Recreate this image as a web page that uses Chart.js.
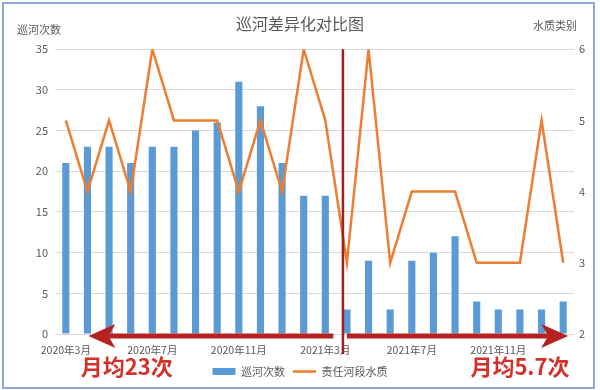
<!DOCTYPE html>
<html>
<head>
<meta charset="utf-8">
<title>巡河差异化对比图</title>
<script src="https://cdn.jsdelivr.net/npm/chart.js@4.4.0/dist/chart.umd.min.js"></script>
<style>
  html, body { margin: 0; padding: 0; background: #fff; }
  canvas { display: block; }
</style>
</head>
<body>
<canvas id="chart" width="600" height="390"></canvas>
<script>
const months = ['2020年3月', '2020年4月', '2020年5月', '2020年6月', '2020年7月', '2020年8月',
  '2020年9月', '2020年10月', '2020年11月', '2020年12月', '2021年1月', '2021年2月',
  '2021年3月', '2021年4月', '2021年5月', '2021年6月', '2021年7月', '2021年8月',
  '2021年9月', '2021年10月', '2021年11月', '2021年12月', '2022年1月', '2022年2月'];
const patrolCounts = [21, 23, 23, 21, 23, 23, 25, 26, 31, 28, 21, 17, 17, 3, 9, 3, 9, 10, 12, 4, 3, 3, 3, 4];
const waterGrade = [5, 4, 5, 4, 6, 5, 5, 5, 4, 5, 4, 6, 5, 3, 6, 3, 4, 4, 4, 3, 3, 3, 5, 3];
const seriesNames = ['巡河次数', '责任河段水质'];
const axisTitles = ['巡河次数', '水质类别'];
const avgLabels = ['月均23次', '月均5.7次'];
const splitIndex = 13; // first month after the change

const FONT = '"Noto Sans CJK SC", "Noto Sans", sans-serif';
const GREY = '#595959';

function drawArrow(ctx, fromX, toX, y) {
  const dir = toX < fromX ? -1 : 1;
  const headLen = 27, headHalf = 12, notch = 7;
  ctx.beginPath();
  ctx.lineWidth = 5;
  ctx.moveTo(fromX, y);
  ctx.lineTo(toX - dir * (headLen - notch), y);
  ctx.stroke();
  ctx.beginPath();
  ctx.moveTo(toX, y);
  ctx.lineTo(toX - dir * headLen, y - headHalf);
  ctx.lineTo(toX - dir * (headLen - notch), y);
  ctx.lineTo(toX - dir * headLen, y + headHalf);
  ctx.closePath();
  ctx.fill();
}

const extras = {
  id: 'extras',
  beforeDraw(chart) {
    const ctx = chart.ctx;
    ctx.save();
    ctx.fillStyle = '#fff';
    ctx.fillRect(0, 0, chart.width, chart.height);
    ctx.restore();
  },
  afterDraw(chart) {
    const ctx = chart.ctx;
    const x = chart.scales.x, y = chart.scales.y;
    ctx.save();
    // dividing line
    const splitX = x.getPixelForValue(splitIndex) - 4;
    ctx.strokeStyle = '#a21f1f';
    ctx.lineWidth = 2.5;
    ctx.beginPath();
    ctx.moveTo(splitX, chart.chartArea.top);
    ctx.lineTo(splitX, y.bottom + 20);
    ctx.stroke();
    // arrows
    const ay = y.getPixelForValue(0) + 2;
    ctx.strokeStyle = '#b5221f';
    ctx.fillStyle = '#b5221f';
    drawArrow(ctx, x.getPixelForValue(splitIndex - 1) + 8, x.getPixelForValue(1) + 1, ay);
    drawArrow(ctx, x.getPixelForValue(splitIndex), x.getPixelForValue(months.length - 1) + 5, ay);
    // averages
    ctx.fillStyle = '#d3312a';
    ctx.font = 'bold 22px ' + FONT;
    ctx.textAlign = 'center';
    ctx.textBaseline = 'middle';
    ctx.fillText(avgLabels[0], x.getPixelForValue(3) - 4, 367);
    ctx.fillText(avgLabels[1], x.getPixelForValue(21), 367);
    // axis titles
    ctx.fillStyle = GREY;
    ctx.font = '11px ' + FONT;
    ctx.textAlign = 'left';
    ctx.fillText(axisTitles[0], 17, 30);
    ctx.textAlign = 'right';
    ctx.fillText(axisTitles[1], 577, 26);
    // frame
    ctx.strokeStyle = '#8fa8d8';
    ctx.lineWidth = 2;
    ctx.strokeRect(3, 3, 591, 385);
    ctx.restore();
  }
};

const chart = new Chart(document.getElementById('chart'), {
  data: {
    labels: months,
    datasets: [
      {
        type: 'bar',
        label: seriesNames[0],
        data: patrolCounts,
        backgroundColor: '#5b9bd5',
        borderWidth: 0,
        barPercentage: 0.33,
        categoryPercentage: 1,
        yAxisID: 'y',
        order: 1
      },
      {
        type: 'line',
        label: seriesNames[1],
        data: waterGrade,
        borderColor: '#ed7d31',
        backgroundColor: '#ed7d31',
        borderWidth: 2.5,
        pointRadius: 0,
        tension: 0,
        yAxisID: 'y1',
        order: 0
      }
    ]
  },
  options: {
    responsive: false,
    animation: false,
    devicePixelRatio: 1,
    layout: { padding: { left: 0, right: 0, top: 0, bottom: 3 } },
    plugins: {
      title: {
        display: true,
        text: '巡河差异化对比图',
        color: GREY,
        font: { family: FONT, size: 16, weight: 'normal' },
        padding: { top: 14, bottom: 16 }
      },
      legend: {
        position: 'bottom',
        labels: {
          color: GREY,
          font: { family: FONT, size: 11 },
          usePointStyle: true,
          pointStyleWidth: 23,
          boxHeight: 7,
          padding: 8,
          sort: (a, b) => a.datasetIndex - b.datasetIndex,
          generateLabels(chart) {
            const items = Chart.defaults.plugins.legend.labels.generateLabels(chart);
            items.forEach(item => { item.pointStyle = item.datasetIndex === 0 ? 'rect' : 'line'; });
            return items;
          }
        }
      },
      tooltip: { enabled: false }
    },
    scales: {
      x: {
        offset: true,
        grid: { display: false, drawTicks: false },
        border: { display: false },
        ticks: {
          color: GREY,
          font: { family: FONT, size: 10.5 },
          padding: 10,
          autoSkip: false,
          maxRotation: 0,
          callback: (v, i) => (i % 4 === 0 ? months[i] : '')
        },
        afterFit: (scale) => { scale.height = 24; }
      },
      y: {
        position: 'left',
        min: 0,
        max: 35,
        grid: { color: '#d9d9d9', drawTicks: false },
        border: { display: false },
        ticks: { stepSize: 5, color: GREY, font: { family: FONT, size: 11 }, padding: 7 },
        afterFit: (scale) => { scale.width = 55; }
      },
      y1: {
        position: 'right',
        min: 2,
        max: 6,
        grid: { display: false, drawTicks: false },
        border: { display: false },
        ticks: { stepSize: 1, color: GREY, font: { family: FONT, size: 11 }, padding: 5 },
        afterFit: (scale) => { scale.width = 26; }
      }
    }
  },
  plugins: [extras]
});
</script>
</body>
</html>
